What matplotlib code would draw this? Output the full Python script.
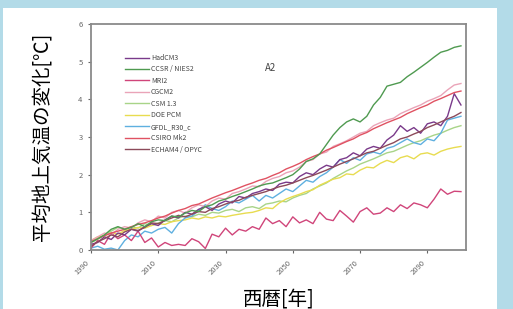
import numpy as np
import matplotlib
matplotlib.use("Agg")
import matplotlib.pyplot as plt
from matplotlib.patches import Rectangle

plt.rcParams['font.family'] = ['Noto Sans CJK JP', 'DejaVu Sans']

# years 1990..2100, every 2 years
years = np.arange(1990, 2101, 2)

hadcm3 = [0.15, 0.20, 0.35, 0.28, 0.45, 0.40, 0.55, 0.50, 0.62, 0.70,
          0.65, 0.80, 0.90, 0.85, 1.00, 0.95, 1.08, 1.15, 1.05, 1.22,
          1.30, 1.25, 1.42, 1.38, 1.50, 1.55, 1.62, 1.58, 1.75, 1.80,
          1.78, 1.95, 2.05, 2.00, 2.15, 2.25, 2.20, 2.40, 2.45, 2.58,
          2.50, 2.68, 2.75, 2.70, 2.92, 3.05, 3.30, 3.15, 3.25, 3.10,
          3.35, 3.40, 3.30, 3.55, 4.15, 3.85]
ccsr = [0.20, 0.30, 0.40, 0.55, 0.62, 0.55, 0.60, 0.70, 0.62, 0.75,
        0.80, 0.78, 0.90, 0.88, 0.98, 1.05, 1.02, 1.15, 1.20, 1.30,
        1.35, 1.42, 1.48, 1.55, 1.62, 1.70, 1.75, 1.78, 1.85, 1.92,
        2.00, 2.15, 2.35, 2.42, 2.55, 2.80, 3.05, 3.25, 3.40, 3.48,
        3.40, 3.55, 3.85, 4.05, 4.35, 4.40, 4.45, 4.60, 4.72, 4.85,
        4.98, 5.12, 5.25, 5.30, 5.38, 5.42]
mri2 = [0.05, 0.25, 0.15, 0.45, 0.30, 0.40, 0.25, 0.50, 0.20, 0.32,
        0.08, 0.20, 0.12, 0.15, 0.12, 0.30, 0.22, 0.04, 0.42, 0.35,
        0.58, 0.40, 0.55, 0.50, 0.62, 0.55, 0.85, 0.70, 0.78, 0.62,
        0.88, 0.72, 0.80, 0.70, 1.00, 0.82, 0.78, 1.05, 0.90, 0.74,
        1.02, 1.12, 0.95, 0.98, 1.12, 1.02, 1.20, 1.10, 1.25, 1.20,
        1.12, 1.35, 1.62, 1.48, 1.56, 1.55]
cgcm2 = [0.25, 0.35, 0.45, 0.40, 0.55, 0.62, 0.58, 0.72, 0.80, 0.75,
         0.90, 0.85, 1.00, 1.05, 0.98, 1.12, 1.20, 1.15, 1.30, 1.38,
         1.35, 1.50, 1.55, 1.62, 1.70, 1.68, 1.82, 1.90, 1.95, 2.05,
         2.10, 2.20, 2.35, 2.40, 2.55, 2.60, 2.75, 2.82, 2.90, 3.00,
         3.10, 3.15, 3.30, 3.38, 3.45, 3.50, 3.62, 3.70, 3.78, 3.85,
         3.95, 4.02, 4.10, 4.25, 4.38, 4.42]
csm13 = [0.20, 0.28, 0.40, 0.50, 0.60, 0.55, 0.62, 0.58, 0.70, 0.65,
         0.72, 0.78, 0.75, 0.85, 0.90, 0.88, 0.95, 0.92, 1.00, 0.98,
         1.05, 1.08, 1.02, 1.12, 1.15, 1.10, 1.22, 1.25, 1.30, 1.28,
         1.38, 1.45, 1.50, 1.62, 1.70, 1.78, 1.90, 2.00, 2.10, 2.18,
         2.28, 2.35, 2.42, 2.50, 2.58, 2.62, 2.70, 2.78, 2.85, 2.90,
         2.98, 3.05, 3.10, 3.18, 3.25, 3.30]
doepcm = [0.25, 0.35, 0.38, 0.45, 0.42, 0.52, 0.55, 0.60, 0.58, 0.65,
          0.70, 0.68, 0.75, 0.78, 0.80, 0.85, 0.82, 0.88, 0.85, 0.90,
          0.88, 0.92, 0.95, 0.98, 1.00, 1.05, 1.12, 1.10, 1.25, 1.35,
          1.42, 1.48, 1.55, 1.60, 1.72, 1.80, 1.88, 1.92, 2.02, 2.00,
          2.12, 2.20, 2.18, 2.30, 2.38, 2.32, 2.45, 2.50, 2.42, 2.55,
          2.58, 2.52, 2.62, 2.68, 2.72, 2.75]
gfdl = [0.05, 0.10, 0.02, 0.05, 0.00, 0.25, 0.40, 0.35, 0.50, 0.45,
        0.55, 0.60, 0.45, 0.70, 0.85, 0.90, 1.05, 1.20, 1.10, 1.05,
        1.15, 1.30, 1.25, 1.35, 1.45, 1.30, 1.45, 1.38, 1.50, 1.62,
        1.55, 1.70, 1.85, 1.80, 1.95, 2.05, 2.20, 2.40, 2.30, 2.45,
        2.38, 2.55, 2.60, 2.55, 2.70, 2.75, 2.85, 2.95, 2.85, 2.80,
        2.95, 2.90, 3.10, 3.45, 3.50, 3.55]
csiro = [0.22, 0.30, 0.38, 0.45, 0.50, 0.55, 0.62, 0.68, 0.72, 0.78,
         0.85, 0.90, 0.98, 1.05, 1.10, 1.18, 1.22, 1.30, 1.38, 1.45,
         1.52, 1.58, 1.65, 1.72, 1.78, 1.85, 1.90, 1.98, 2.05, 2.15,
         2.22, 2.30, 2.40, 2.48, 2.55, 2.65, 2.72, 2.80, 2.88, 2.95,
         3.05, 3.12, 3.22, 3.30, 3.38, 3.45, 3.52, 3.62, 3.70, 3.78,
         3.85, 3.95, 4.02, 4.10, 4.18, 4.22]
echam4 = [0.10, 0.22, 0.30, 0.40, 0.35, 0.48, 0.55, 0.52, 0.60, 0.72,
          0.70, 0.78, 0.85, 0.92, 0.88, 0.95, 1.02, 1.00, 1.10, 1.15,
          1.22, 1.28, 1.32, 1.40, 1.45, 1.50, 1.55, 1.62, 1.68, 1.72,
          1.78, 1.85, 1.92, 1.98, 2.05, 2.12, 2.20, 2.28, 2.35, 2.42,
          2.50, 2.58, 2.62, 2.70, 2.78, 2.85, 2.95, 3.00, 3.08, 3.15,
          3.25, 3.32, 3.40, 3.48, 3.55, 3.65]

labels = ["HadCM3", "CCSR / NIES2", "MRI2", "CGCM2", "CSM 1.3",
          "DOE PCM", "GFDL_R30_c", "CSIRO Mk2", "ECHAM4 / OPYC"]
colors = ["#7a3a8a", "#4f9a50", "#d0457a", "#eaa4b8", "#a8d488",
          "#e8dc50", "#5fb0e0", "#e05262", "#8c4a5a"]
series = [hadcm3, ccsr, mri2, cgcm2, csm13, doepcm, gfdl, csiro, echam4]

fig = plt.figure(figsize=(5.13, 3.09), dpi=100)
fig.patch.set_facecolor("#b3dbe8")
fig.patches.append(Rectangle((3 / 513, 0), 494 / 513, 1 - 8 / 309,
                             transform=fig.transFigure, facecolor="white",
                             edgecolor="none", zorder=-10))

ax = fig.add_axes([91 / 513, 1 - 250 / 309, 375 / 513, 226 / 309])
ax.set_zorder(2)
ax.set_facecolor("white")

# draw back to front so the legend order stays the same
order = [4, 5, 6, 2, 3, 0, 8, 7, 1]
lines = {}
for i in order:
    ln, = ax.plot(years, series[i], color=colors[i], lw=1.0, label=labels[i])
    lines[i] = ln

ax.set_xlim(1990, 2101.5)
ax.set_ylim(0, 6)
ax.set_xticks([1990, 2010, 2030, 2050, 2070, 2090])
ax.set_yticks(range(0, 7))
ax.tick_params(axis="both", colors="#666", labelsize=5.5, length=2.5, width=0.8)
for lb in ax.get_xticklabels():
    lb.set_rotation(45)
    lb.set_ha("right")
for sp in ax.spines.values():
    sp.set_color("#8a8a8a")
    sp.set_linewidth(1.3)

ax.legend([lines[i] for i in range(9)], labels, loc="upper left",
          bbox_to_anchor=(0.075, 0.895), frameon=False, fontsize=5,
          handlelength=3.4, labelspacing=0.5, handletextpad=0.3,
          labelcolor="#444")

ax.text(0.465, 0.79, "A2", transform=ax.transAxes, fontsize=7, color="#444")

ax.set_ylabel("平均地上気温の変化[℃]", fontsize=14, color="black", labelpad=18)
ax.set_xlabel("西暦[年]", fontsize=14, color="black", labelpad=9)

fig.savefig("out.png", dpi=100, facecolor=fig.get_facecolor())
